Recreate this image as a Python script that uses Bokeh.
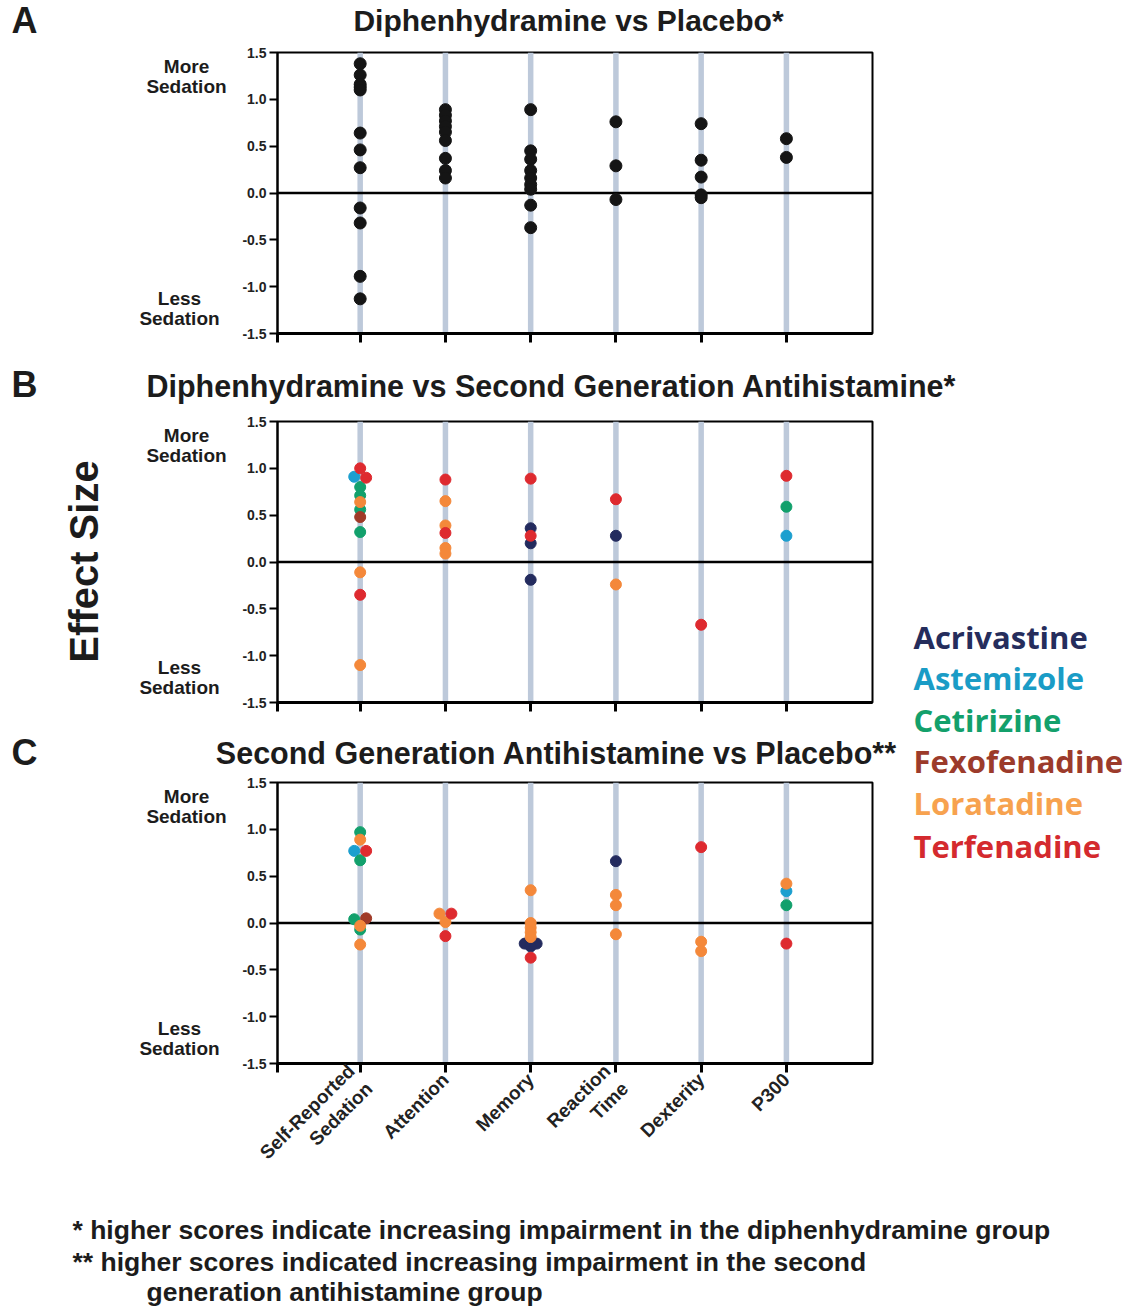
import math
from bokeh.plotting import figure
from bokeh.models import Range1d, FixedTicker, NumeralTickFormatter, Span, Label, ColumnDataSource
from bokeh.layouts import column, row
from bokeh.embed import file_html
from bokeh.resources import INLINE

# ---------------- data ----------------
CATEGORIES = ["Self-Reported Sedation", "Attention", "Memory", "Reaction Time", "Dexterity", "P300"]
TICK_LABELS = ["Self-Reported\nSedation", "Attention", "Memory", "Reaction\nTime", "Dexterity", "P300"]
Y_TICKS = [-1.5, -1.0, -0.5, 0.0, 0.5, 1.0, 1.5]

# Panel A: Diphenhydramine vs Placebo
A_SELF_REPORTED = [1.38, 1.26, 1.16, 1.13, 1.10, 0.64, 0.46, 0.27, -0.16, -0.32, -0.89, -1.13]
A_ATTENTION = [0.89, 0.83, 0.77, 0.71, 0.65, 0.56, 0.37, 0.24, 0.16]
A_MEMORY = [0.89, 0.45, 0.36, 0.24, 0.16, 0.09, 0.04, -0.13, -0.37]
A_REACTION_TIME = [0.76, 0.29, -0.07]
A_DEXTERITY = [0.74, 0.35, 0.17, -0.02, -0.05]
A_P300 = [0.58, 0.38]

DRUGS = ["Acrivastine", "Astemizole", "Cetirizine", "Fexofenadine", "Loratadine", "Terfenadine"]
DRUG_COLORS = ["#232b5e", "#1c9fcf", "#12a06c", "#a03a28", "#f4883a", "#de2a2f"]
LEGEND_COLORS = ["#252d5c", "#1a9cc6", "#13a06b", "#9c3b2b", "#f7a24f", "#d42a2e"]

# Panel B: Diphenhydramine vs Second Generation Antihistamine
B_ACRIVASTINE_CAT = ["Memory", "Memory", "Memory", "Reaction Time"]
B_ACRIVASTINE_VAL = [0.36, 0.20, -0.19, 0.28]
B_ASTEMIZOLE_CAT = ["Self-Reported Sedation", "P300"]
B_ASTEMIZOLE_VAL = [0.91, 0.28]
B_CETIRIZINE_CAT = ["Self-Reported Sedation", "Self-Reported Sedation", "Self-Reported Sedation",
                    "Self-Reported Sedation", "P300"]
B_CETIRIZINE_VAL = [0.80, 0.71, 0.56, 0.32, 0.59]
B_FEXOFENADINE_CAT = ["Self-Reported Sedation"]
B_FEXOFENADINE_VAL = [0.48]
B_LORATADINE_CAT = ["Self-Reported Sedation", "Self-Reported Sedation", "Self-Reported Sedation",
                    "Attention", "Attention", "Attention", "Attention", "Reaction Time"]
B_LORATADINE_VAL = [0.64, -0.11, -1.10, 0.65, 0.39, 0.15, 0.09, -0.24]
B_TERFENADINE_CAT = ["Self-Reported Sedation", "Self-Reported Sedation", "Self-Reported Sedation",
                     "Attention", "Attention", "Memory", "Memory", "Reaction Time", "Dexterity", "P300"]
B_TERFENADINE_VAL = [1.00, 0.90, -0.35, 0.88, 0.31, 0.89, 0.28, 0.67, -0.67, 0.92]

# Panel C: Second Generation Antihistamine vs Placebo
C_ACRIVASTINE_CAT = ["Memory", "Memory", "Memory", "Reaction Time"]
C_ACRIVASTINE_VAL = [-0.22, -0.22, -0.25, 0.66]
C_ASTEMIZOLE_CAT = ["Self-Reported Sedation", "P300"]
C_ASTEMIZOLE_VAL = [0.77, 0.34]
C_CETIRIZINE_CAT = ["Self-Reported Sedation", "Self-Reported Sedation", "Self-Reported Sedation",
                    "Self-Reported Sedation", "P300"]
C_CETIRIZINE_VAL = [0.97, 0.67, 0.04, -0.07, 0.19]
C_FEXOFENADINE_CAT = ["Self-Reported Sedation"]
C_FEXOFENADINE_VAL = [0.05]
C_LORATADINE_CAT = ["Self-Reported Sedation", "Self-Reported Sedation", "Self-Reported Sedation",
                    "Attention", "Attention", "Memory", "Memory", "Memory", "Memory", "Memory",
                    "Reaction Time", "Reaction Time", "Reaction Time", "Dexterity", "Dexterity", "P300"]
C_LORATADINE_VAL = [0.89, -0.03, -0.23, 0.10, 0.01, 0.35, 0.00, -0.05, -0.10, -0.15,
                    0.30, 0.19, -0.12, -0.20, -0.30, 0.42]
C_TERFENADINE_CAT = ["Self-Reported Sedation", "Attention", "Attention", "Memory", "Dexterity", "P300"]
C_TERFENADINE_VAL = [0.77, 0.10, -0.14, -0.37, 0.81, -0.22]

PANEL_LETTERS = ["A", "B", "C"]
TITLES = ["Diphenhydramine vs Placebo*",
          "Diphenhydramine vs Second Generation Antihistamine*",
          "Second Generation Antihistamine vs Placebo**"]
FOOTNOTES = ["* higher scores indicate increasing impairment in the diphenhydramine group",
             "** higher scores indicated increasing impairment in the second",
             "generation antihistamine group"]

# ---------------- layout constants ----------------
TOTAL_W = 1130
LEFT_W = 232            # text column left of the panels
AXIS_W = 45             # room for the y tick labels
FRAME_W, FRAME_H = 595, 281
LEGEND_X0 = 905
X_START, X_END = 0.03, 7.01
FONT = "Liberation Sans"
LINE_BLUE = "#bdc9da"
DARK = "#1c1c1c"


def dodge(cats, vals, keys, tol=0.015, step=0.14):
    offs = [0.0] * len(vals)
    order = sorted(range(len(vals)), key=lambda i: (cats[i], vals[i], keys[i]))
    groups = []
    for i in order:
        if groups and cats[groups[-1][-1]] == cats[i] and abs(vals[i] - vals[groups[-1][-1]]) <= tol:
            groups[-1].append(i)
        else:
            groups.append([i])
    for g in groups:
        g.sort(key=lambda i: keys[i])
        n = len(g)
        for k, i in enumerate(g):
            offs[i] = (k - (n - 1) / 2) * step
    return offs


def text_fig(w, h, top=0, bottom=0):
    f = figure(frame_width=w, frame_height=h, min_border=0,
               min_border_top=top, min_border_bottom=bottom,
               x_range=Range1d(0, w), y_range=Range1d(h, 0),
               x_axis_location=None, y_axis_location=None,
               output_backend="svg", toolbar_location=None, tools="")
    f.grid.visible = False
    f.outline_line_color = None
    f.background_fill_color = "white"
    f.border_fill_color = "white"
    return f


def put(f, x, y, s, size, color=DARK, align="center", angle=0.0, font=FONT):
    f.add_layout(Label(x=x, y=y, text=s, text_font=font, text_font_size=f"{size}px",
                       text_font_style="bold", text_color=color, text_align=align,
                       text_baseline="middle", angle=angle))


def left_text_fig(top, bottom):
    # frame of this figure lines up with the panel frame (y measured from frame top)
    f = text_fig(LEFT_W, FRAME_H, top, bottom)
    put(f, 186, 14, "More", 19)
    put(f, 186, 34, "Sedation", 19)
    put(f, 179, FRAME_H - 35, "Less", 19)
    put(f, 179, FRAME_H - 15, "Sedation", 19)
    return f


def make_panel(width, top, bottom, show_labels):
    p = figure(frame_width=FRAME_W, frame_height=FRAME_H,
               min_border_left=AXIS_W, min_border_right=width - AXIS_W - FRAME_W,
               min_border_top=top, min_border_bottom=bottom,
               x_range=Range1d(X_START, X_END), y_range=Range1d(-1.5, 1.5),
               output_backend="svg", toolbar_location=None, tools="")
    p.grid.visible = False
    p.background_fill_color = "white"
    p.border_fill_color = "white"
    p.outline_line_color = "black"
    p.outline_line_width = 2
    p.outline_line_alpha = 1

    cat_pos = list(range(1, len(CATEGORIES) + 1))
    for pos in cat_pos:
        p.add_layout(Span(location=pos, dimension="height", line_color=LINE_BLUE,
                          line_width=5.5, level="underlay"))
    p.add_layout(Span(location=0, dimension="width", line_color="black",
                      line_width=2.5, level="underlay"))

    ya = p.yaxis[0]
    ya.ticker = FixedTicker(ticks=Y_TICKS)
    ya.formatter = NumeralTickFormatter(format="0.0")
    ya.major_label_text_font = FONT
    ya.major_label_text_font_style = "bold"
    ya.major_label_text_font_size = "14px"
    ya.major_label_text_color = "#222222"
    ya.major_tick_out = 8
    ya.major_tick_in = 0
    ya.minor_tick_out = 0
    ya.minor_tick_in = 0
    ya.axis_line_width = 2
    ya.major_tick_line_width = 2
    ya.major_label_standoff = 3

    xa = p.xaxis[0]
    xa.ticker = FixedTicker(ticks=[X_START] + cat_pos)
    overrides = {X_START: ""}
    for pos, lab in zip(cat_pos, TICK_LABELS):
        overrides[pos] = lab if show_labels else ""
    xa.major_label_overrides = overrides
    xa.major_tick_out = 9
    xa.major_tick_in = 0
    xa.minor_tick_out = 0
    xa.minor_tick_in = 0
    xa.axis_line_width = 3
    xa.major_tick_line_width = 3
    if show_labels:
        xa.major_label_orientation = math.pi / 4
        xa.major_label_text_font = FONT
        xa.major_label_text_font_style = "bold"
        xa.major_label_text_font_size = "19px"
        xa.major_label_text_color = "#222222"
        xa.major_label_standoff = 4
    else:
        xa.major_label_standoff = 0
        xa.major_label_text_font_size = "1px"
    return p


def drug_points(p, cats_list, vals_list):
    cats, vals, keys = [], [], []
    for di, (cs, vs) in enumerate(zip(cats_list, vals_list)):
        for c, v in zip(cs, vs):
            cats.append(c)
            vals.append(v)
            keys.append(di)
    offs = dodge(cats, vals, keys)
    xs = [CATEGORIES.index(c) + 1 + o for c, o in zip(cats, offs)]
    for di, name in enumerate(DRUGS):
        idx = [i for i in range(len(vals)) if keys[i] == di]
        src = ColumnDataSource(dict(x=[xs[i] for i in idx], y=[vals[i] for i in idx]))
        p.scatter(x="x", y="y", source=src, size=11,
                  fill_color=DRUG_COLORS[di], line_color=DRUG_COLORS[di])


# ---------- title strip A (y 0..44) ----------
tsA = text_fig(TOTAL_W, 44)
put(tsA, 24, 20, PANEL_LETTERS[0], 36)
put(tsA, 568, 20, TITLES[0], 30)

# ---------- row A (y 44..360) ----------
A_TOP, A_BOT = 8, 27
leftA = left_text_fig(A_TOP, A_BOT)
pA = make_panel(TOTAL_W - LEFT_W, A_TOP, A_BOT, False)
a_cols = [A_SELF_REPORTED, A_ATTENTION, A_MEMORY, A_REACTION_TIME, A_DEXTERITY, A_P300]
a_cat, a_val = [], []
for ci, vals in enumerate(a_cols):
    for v in vals:
        a_cat.append(CATEGORIES[ci])
        a_val.append(v)
a_off = dodge(a_cat, a_val, [0] * len(a_val))
a_x = [CATEGORIES.index(c) + 1 + o for c, o in zip(a_cat, a_off)]
pA.scatter(x="x", y="y", source=ColumnDataSource(dict(x=a_x, y=a_val)),
           size=12, fill_color="#151515", line_color="#151515")
rowA = row(leftA, pA, spacing=0)

# ---------- title strip B (y 360..405) ----------
tsB = text_fig(TOTAL_W, 45)
put(tsB, 24, 24, PANEL_LETTERS[1], 36)
put(tsB, 551, 25, TITLES[1], 30.5)

# ---------- row B (y 405..714) ----------
LEFT_PART_W = LEGEND_X0
B_TOP, B_BOT = 16, 12
leftB = left_text_fig(B_TOP, B_BOT)
put(leftB, 83, 140, "Effect Size", 40, angle=math.pi / 2)
pB = make_panel(LEFT_PART_W - LEFT_W, B_TOP, B_BOT, False)
drug_points(pB,
            [B_ACRIVASTINE_CAT, B_ASTEMIZOLE_CAT, B_CETIRIZINE_CAT, B_FEXOFENADINE_CAT,
             B_LORATADINE_CAT, B_TERFENADINE_CAT],
            [B_ACRIVASTINE_VAL, B_ASTEMIZOLE_VAL, B_CETIRIZINE_VAL, B_FEXOFENADINE_VAL,
             B_LORATADINE_VAL, B_TERFENADINE_VAL])
rowB = row(leftB, pB, spacing=0)

# ---------- title strip C (y 714..772) ----------
tsC = text_fig(LEFT_PART_W, 58)
put(tsC, 24, 38, PANEL_LETTERS[2], 36)
put(tsC, 556, 38, TITLES[2], 30.5)

# ---------- row C (y 772..1201) ----------
C_TOP, C_BOT = 10, 138
leftC = left_text_fig(C_TOP, C_BOT)
pC = make_panel(LEFT_PART_W - LEFT_W, C_TOP, C_BOT, True)
drug_points(pC,
            [C_ACRIVASTINE_CAT, C_ASTEMIZOLE_CAT, C_CETIRIZINE_CAT, C_FEXOFENADINE_CAT,
             C_LORATADINE_CAT, C_TERFENADINE_CAT],
            [C_ACRIVASTINE_VAL, C_ASTEMIZOLE_VAL, C_CETIRIZINE_VAL, C_FEXOFENADINE_VAL,
             C_LORATADINE_VAL, C_TERFENADINE_VAL])
rowC = row(leftC, pC, spacing=0)

# ---------- legend column (x 905.., y 405..1201) ----------
legend_fig = text_fig(TOTAL_W - LEGEND_X0, 796)
LEGEND_Y = [231, 272, 314, 355, 397, 440]
for i, name in enumerate(DRUGS):
    put(legend_fig, 8, LEGEND_Y[i], name, 31, LEGEND_COLORS[i], align="left", font="Open Sans")

lower = row(column(rowB, tsC, rowC, spacing=0), legend_fig, spacing=0)

# ---------- footnotes (y 1201..1309) ----------
foot = text_fig(TOTAL_W, 108)
put(foot, 72, 28, FOOTNOTES[0], 26.5, align="left")
put(foot, 72, 60, FOOTNOTES[1], 26.5, align="left")
put(foot, 146, 90, FOOTNOTES[2], 26.5, align="left")

layout = column(tsA, rowA, tsB, lower, foot, spacing=0)
open("out.html", "w").write(file_html(layout, INLINE))
